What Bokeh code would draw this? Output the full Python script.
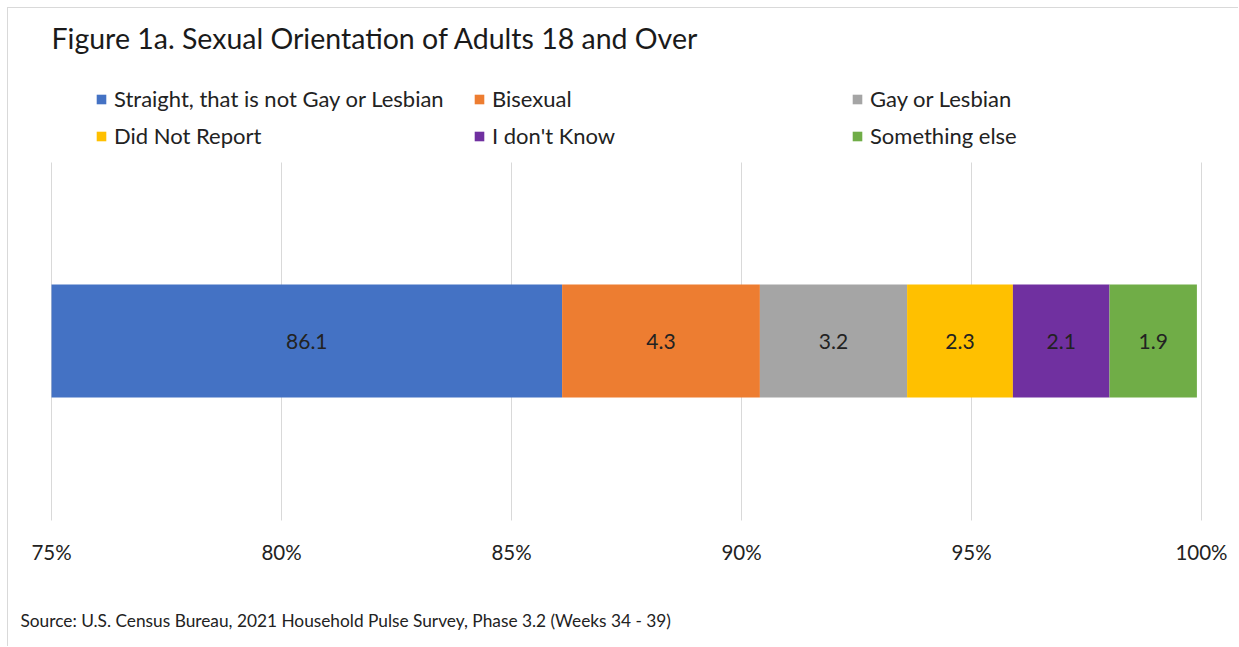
from bokeh.plotting import figure
from bokeh.models import (ColumnDataSource, Range1d, Legend, LegendItem, Label)
from bokeh.core.properties import value
from bokeh.embed import file_html
from bokeh.resources import INLINE

categories = ["Straight, that is not Gay or Lesbian", "Bisexual", "Gay or Lesbian",
              "Did Not Report", "I don't Know", "Something else"]
values = [86.1, 4.3, 3.2, 2.3, 2.1, 1.9]
colors = ["#4472C4", "#ED7D31", "#A5A5A5", "#FFC000", "#7030A0", "#70AD47"]
tick_values = [75, 80, 85, 90, 95, 100]
tick_labels = ["75%", "80%", "85%", "90%", "95%", "100%"]
axis_start = 75
axis_end = 100

title_text = "Figure 1a. Sexual Orientation of Adults 18 and Over"
source_text = "Source: U.S. Census Bureau, 2021 Household Pulse Survey, Phase 3.2 (Weeks 34 - 39)"

FONT = "Lato"
TXT = "#222222"

W, H = 1239, 647
M = 8                      # offset of the canvas inside the window (margin + 1px border)
CW, CH = W - M, H - M      # canvas size

# layout (window pixels)
plot_left_px, plot_right_px = 51, 1201
bar_center_px, bar_h_px = 340.5, 113
grid_top_px, grid_bottom_px = 162, 520
tick_label_px = 551

pxu = (plot_right_px - plot_left_px) / (axis_end - axis_start)
x0 = axis_start - (plot_left_px - M) / pxu
x1 = axis_end + (CW - (plot_right_px - M)) / pxu
yc = bar_center_px - M
y_top = yc / bar_h_px
y_bot = -(CH - yc) / bar_h_px


def ypx(py):
    return (yc - (py - M)) / bar_h_px


p = figure(width=CW, height=CH, output_backend="svg", toolbar_location=None,
           x_range=Range1d(x0, x1), y_range=Range1d(y_bot, y_top),
           x_axis_location=None, y_axis_location=None,
           min_border=0, margin=(M - 1, 0, 0, M - 1),
           styles={"border-left": "1px solid #d9d9d9", "border-top": "1px solid #d9d9d9"})
p.outline_line_color = None
p.background_fill_color = "white"
p.border_fill_color = "white"
p.xgrid.visible = False
p.ygrid.visible = False

# grid lines
grid_src = ColumnDataSource(dict(x=tick_values, y0=[ypx(grid_bottom_px)] * len(tick_values),
                                 y1=[ypx(grid_top_px)] * len(tick_values)))
p.segment(x0="x", y0="y0", x1="x", y1="y1", source=grid_src,
          line_color="#d9d9d9", line_width=1)

# tick labels
tick_src = ColumnDataSource(dict(x=tick_values, y=[ypx(tick_label_px)] * len(tick_values),
                                 t=tick_labels))
p.text(x="x", y="y", text="t", source=tick_src, text_align="center",
       text_baseline="middle", text_font=value(FONT), text_font_size="20.5px",
       text_color=TXT)

# stacked bar segments
lefts, rights = [], []
acc = 0.0
for v in values:
    lefts.append(acc)
    acc += v
    rights.append(acc)
vis_lefts = [max(l, axis_start) for l in lefts]

items = []
for cat, c, l, r in zip(categories, colors, vis_lefts, rights):
    src = ColumnDataSource(dict(y=[0], left=[l], right=[r]))
    rend = p.hbar(y="y", left="left", right="right", height=1, source=src,
                  fill_color=c, line_color=None)
    items.append(LegendItem(label=cat, renderers=[rend]))

centers = [(l + r) / 2 for l, r in zip(vis_lefts, rights)]
lab_src = ColumnDataSource(dict(x=centers, y=[0] * len(values),
                                t=["%.1f" % v for v in values]))
p.text(x="x", y="y", text="t", source=lab_src, text_align="center",
       text_baseline="middle", text_font=value(FONT), text_font_size="21px",
       text_color=TXT)

legend = Legend(items=items, ncols=3, orientation="horizontal",
                location=(95 - M, H - 154), glyph_width=12, glyph_height=12,
                label_standoff=7, label_width=359, label_height=37, spacing=0,
                padding=0, margin=0, border_line_color=None,
                background_fill_alpha=0, label_text_font=FONT,
                label_text_font_size="22px", label_text_color=TXT)
p.add_layout(legend, "center")

p.add_layout(Label(x=51 - M, y=H - 37, x_units="screen", y_units="screen",
                   text=title_text, text_font=FONT, text_font_size="28.5px",
                   text_color="#1a1a1a", text_baseline="middle"))
p.add_layout(Label(x=20 - M, y=H - 620, x_units="screen", y_units="screen",
                   text=source_text, text_font=FONT, text_font_size="17.3px",
                   text_color=TXT, text_baseline="middle"))

open("out.html", "w").write(file_html(p, INLINE))
